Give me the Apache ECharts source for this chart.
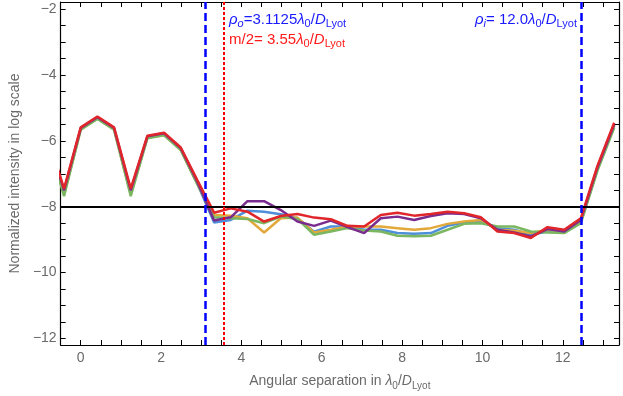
<!DOCTYPE html>
<html>
<head>
<meta charset="utf-8">
<script src="https://cdn.jsdelivr.net/npm/echarts@6/dist/echarts.min.js"></script>
<style>
  html, body { margin: 0; padding: 0; background: #fff; }
  #chart { width: 623px; height: 396px; }
</style>
</head>
<body>
<div id="chart"></div>
<script>
// angular separation samples (lambda0 / D_Lyot)
const sep = [-0.83, -0.415, 0, 0.415, 0.83, 1.245, 1.66, 2.075, 2.49, 2.905,
  3.32, 3.735, 4.15, 4.565, 4.98, 5.395, 5.81, 6.225, 6.64, 7.055,
  7.47, 7.885, 8.3, 8.715, 9.13, 9.545, 9.96, 10.375, 10.79, 11.205,
  11.62, 12.035, 12.45, 12.865, 13.28]

const blueVals = [-5.88, -7.55, -5.63, -5.30, -5.63, -7.55, -5.88, -5.80, -6.25, -7.30,
  -8.48, -8.40, -8.12, -8.15, -8.23, -8.35, -8.76, -8.60, -8.60, -8.70,
  -8.70, -8.80, -8.82, -8.80, -8.58, -8.48, -8.45, -8.65, -8.70, -8.85,
  -8.75, -8.78, -8.45, -6.85, -5.55]

const yellowVals = [-5.90, -7.62, -5.65, -5.32, -5.65, -7.62, -5.90, -5.82, -6.27, -7.30,
  -8.25, -8.27, -8.35, -8.78, -8.35, -8.33, -8.78, -8.70, -8.60, -8.60,
  -8.60, -8.65, -8.70, -8.65, -8.52, -8.45, -8.40, -8.70, -8.73, -8.80,
  -8.70, -8.75, -8.45, -6.85, -5.55]

const greenVals = [-5.92, -7.68, -5.66, -5.33, -5.66, -7.68, -5.92, -5.83, -6.28, -7.32,
  -8.32, -8.35, -8.37, -8.50, -8.30, -8.37, -8.85, -8.75, -8.65, -8.72,
  -8.75, -8.88, -8.90, -8.88, -8.70, -8.52, -8.50, -8.60, -8.60, -8.75,
  -8.78, -8.80, -8.50, -6.90, -5.60]

const purpleVals = [-5.86, -7.50, -5.61, -5.28, -5.61, -7.50, -5.86, -5.77, -6.22, -7.25,
  -8.42, -8.32, -7.83, -7.83, -8.10, -8.45, -8.58, -8.42, -8.62, -8.80,
  -8.35, -8.30, -8.40, -8.28, -8.20, -8.22, -8.35, -8.70, -8.78, -8.90,
  -8.68, -8.75, -8.40, -6.80, -5.50]

const redVals = [-5.84, -7.45, -5.59, -5.26, -5.59, -7.45, -5.84, -5.75, -6.20, -7.20,
  -8.18, -8.05, -8.15, -8.45, -8.28, -8.22, -8.33, -8.38, -8.58, -8.60,
  -8.25, -8.18, -8.27, -8.22, -8.15, -8.20, -8.32, -8.75, -8.80, -8.95,
  -8.62, -8.70, -8.35, -6.75, -5.45]

// reference lines
const rhoOuter = 3.1125
const halfM = 3.55
const rhoInnerLine = 12.45
const floorLevel = -8

// tick marks every 0.5, labels come from the axis' own nice ticks (step 2)
const xTicks = [-0.5, 0, 0.5, 1, 1.5, 2, 2.5, 3, 3.5, 4, 4.5, 5, 5.5, 6, 6.5, 7, 7.5, 8,
  8.5, 9, 9.5, 10, 10.5, 11, 11.5, 12, 12.5, 13]
const yTicks = [-12, -11.5, -11, -10.5, -10, -9.5, -9, -8.5, -8, -7.5, -7, -6.5, -6,
  -5.5, -5, -4.5, -4, -3.5, -3, -2.5, -2]

const FONT = 'Liberation Sans, Arial, sans-serif'
const GREY = '#6a6a6a'

// key is 'color' for echarts text styles, 'fill' for raw graphic text
const richFor = (key, color, size, sub) => ({
  n: { fontSize: size, [key]: color, fontFamily: FONT, lineHeight: 20 },
  it: { fontSize: size, [key]: color, fontFamily: FONT, fontStyle: 'italic', lineHeight: 20 },
  sub: { fontSize: sub, [key]: color, fontFamily: FONT, verticalAlign: 'bottom', lineHeight: 12 },
  subi: { fontSize: sub, [key]: color, fontFamily: FONT, fontStyle: 'italic', verticalAlign: 'bottom', lineHeight: 12 }
})

const minusFmt = v => (v < 0 ? '\u2212' + Math.abs(v) : String(v))

const frameLine = { show: true, onZero: false, lineStyle: { color: '#000', width: 1.2 } }
const ticks = vals => ({ show: true, inside: true, length: 5, customValues: vals, lineStyle: { color: '#000', width: 1 } })

const xBase = {
  type: 'value', min: -0.5, max: 13.4, splitNumber: 7,
  splitLine: { show: false },
  axisLine: frameLine,
  axisTick: ticks(xTicks)
}
const yBase = {
  type: 'value', min: -12.2, max: -1.78, splitNumber: 5,
  splitLine: { show: false },
  axisLine: frameLine,
  axisTick: ticks(yTicks)
}

const chart = echarts.init(document.getElementById('chart'), null, { renderer: 'canvas' })

const mk = (name, color, vals) => ({
  name,
  type: 'line',
  xAxisIndex: 0,
  yAxisIndex: 0,
  data: sep.map((x, i) => [x, vals[i]]),
  symbol: 'none',
  lineStyle: { color, width: 2.5 },
  itemStyle: { color },
  silent: true
})

const redSeries = mk('red', '#e0262b', redVals)
redSeries.markLine = {
  silent: true,
  symbol: ['none', 'none'],
  label: { show: false },
  animation: false,
  data: [
    { yAxis: floorLevel, lineStyle: { color: '#000', width: 2, type: 'solid' } },
    { xAxis: rhoOuter, lineStyle: { color: '#0000ff', width: 2.5, type: [8, 4] } },
    { xAxis: halfM, lineStyle: { color: '#ff0000', width: 2, type: [3, 2] } },
    { xAxis: rhoInnerLine, lineStyle: { color: '#0000ff', width: 2.5, type: [8, 4] } }
  ]
}

chart.setOption({
  animation: false,
  backgroundColor: '#fff',
  grid: { left: 60, right: 4, top: 2, bottom: 48, containLabel: false },
  xAxis: [
    Object.assign({}, xBase, {
      position: 'bottom',
      axisLabel: {
        showMinLabel: false, showMaxLabel: false,
        formatter: minusFmt, color: GREY, fontSize: 14, fontFamily: FONT, margin: 6
      },
      name: 'Angular separation in {it|λ}{sub|0}/{it|D}{sub|Lyot}',
      nameLocation: 'middle',
      nameGap: 26,
      nameTextStyle: { color: GREY, fontSize: 14, fontFamily: FONT, rich: richFor('color', GREY, 14, 10) }
    }),
    Object.assign({}, xBase, { position: 'top', axisLabel: { show: false } })
  ],
  yAxis: [
    Object.assign({}, yBase, {
      position: 'left',
      axisLabel: {
        showMinLabel: false, showMaxLabel: false,
        formatter: minusFmt, color: GREY, fontSize: 14, fontFamily: FONT, margin: 4
      },
      name: 'Normalized intensity in log scale',
      nameLocation: 'middle',
      nameGap: 37,
      nameTextStyle: { color: GREY, fontSize: 14, fontFamily: FONT }
    }),
    Object.assign({}, yBase, { position: 'right', axisLabel: { show: false } })
  ],
  series: [
    mk('blue', '#4d8fd8', blueVals),
    mk('yellow', '#e2a83a', yellowVals),
    mk('green', '#7bb760', greenVals),
    mk('purple', '#7a2c8e', purpleVals),
    redSeries
  ],
  graphic: [
    {
      type: 'text', left: 229, top: 12, silent: true,
      style: {
        text: '{it|ρ}{subi|o}{n|=3.1125}{it|λ}{sub|0}{n|/}{it|D}{sub|Lyot}',
        fill: '#1a1aff',
        rich: richFor('fill', '#1a1aff', 15, 11)
      }
    },
    {
      type: 'text', left: 229, top: 32, silent: true,
      style: {
        text: '{n|m/2= 3.55}{it|λ}{sub|0}{n|/}{it|D}{sub|Lyot}',
        fill: '#ff1a1a',
        rich: richFor('fill', '#ff1a1a', 15, 11)
      }
    },
    {
      type: 'text', right: 46, top: 12, silent: true,
      style: {
        text: '{it|ρ}{subi|i}{n|= 12.0}{it|λ}{sub|0}{n|/}{it|D}{sub|Lyot}',
        fill: '#1a1aff',
        rich: richFor('fill', '#1a1aff', 15, 11)
      }
    }
  ]
})
</script>
</body>
</html>
